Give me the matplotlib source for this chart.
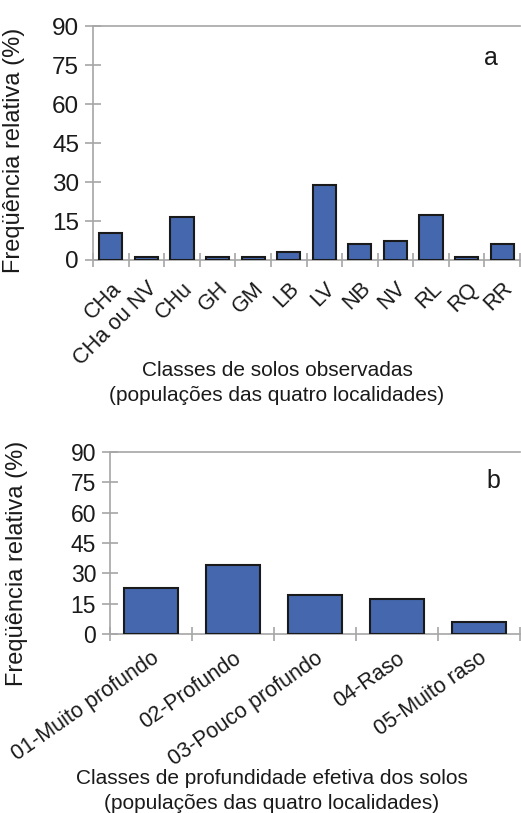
import numpy as np
import matplotlib.pyplot as plt
from matplotlib.ticker import FixedLocator

plt.rcParams['font.family'] = ['Liberation Sans', 'DejaVu Sans']

# panel a - classes de solos
solos = ['CHa', 'CHa ou NV', 'CHu', 'GH', 'GM', 'LB', 'LV', 'NB', 'NV', 'RL', 'RQ', 'RR']
freq_solos = [10.3, 1.0, 16.4, 1.0, 1.0, 3.1, 28.8, 6.2, 7.3, 17.3, 1.0, 6.0]

# panel b - profundidade efetiva
prof = ['01-Muito profundo', '02-Profundo', '03-Pouco profundo', '04-Raso', '05-Muito raso']
freq_prof = [22.6, 34.1, 19.3, 17.3, 6.1]

yticks = [0, 15, 30, 45, 60, 75, 90]
bar_color = '#4567AE'
axis_gray = '#A6A6A6'

fig = plt.figure(figsize=(5.21, 8.13), dpi=100)


def style_axes(ax, n, tick_size, xpad):
    ax.set_xlim(-0.5, n - 0.5)
    ax.set_ylim(0, 90)
    ax.set_yticks(yticks)
    ax.spines['right'].set_visible(False)
    for s in ['left', 'bottom', 'top']:
        ax.spines[s].set_color(axis_gray)
        ax.spines[s].set_linewidth(1.2)
    ax.tick_params(axis='y', direction='inout', length=12, width=1.2,
                   color=axis_gray, labelsize=tick_size, pad=4, labelcolor='#1a1a1a')
    ax.xaxis.set_minor_locator(FixedLocator(np.arange(n + 1) - 0.5))
    ax.tick_params(axis='x', which='minor', direction='inout', length=10,
                   width=1.2, color=axis_gray)
    ax.tick_params(axis='x', which='major', length=0, pad=xpad)


# ---- panel a
ax1 = fig.add_axes([0.1785, 0.6802, 0.8196, 0.2878])
x1 = np.arange(len(solos))
ax1.bar(x1, freq_solos, width=0.65, color=bar_color, edgecolor='#1a1a1a',
        linewidth=1.5, zorder=3)
style_axes(ax1, len(solos), 17.5, 13)
ax1.set_xticks(x1)
ax1.set_xticklabels(solos, rotation=45, ha='right', rotation_mode='anchor',
                    fontsize=15.5, color='#1a1a1a')
ax1.set_ylabel('Freqüência relativa (%)', fontsize=17, color='#1a1a1a')
ax1.yaxis.set_label_coords(-0.16, 0.47)
fig.text(491 / 521, 1 - 58 / 813, 'a', fontsize=18, ha='center', va='center',
         color='#1a1a1a')
fig.text(277 / 521, 1 - 383 / 813,
         'Classes de solos observadas\n(populações das quatro localidades)',
         fontsize=15, ha='center', va='center', linespacing=1.35, color='#1a1a1a')

# ---- panel b
ax2 = fig.add_axes([0.2111, 0.2202, 0.7870, 0.2239])
x2 = np.arange(len(prof))
ax2.bar(x2, freq_prof, width=0.65, color=bar_color, edgecolor='#1a1a1a',
        linewidth=1.5, zorder=3)
style_axes(ax2, len(prof), 16.5, 10)
ax2.set_xticks(x2)
ax2.set_xticklabels(prof, rotation=35, ha='right', rotation_mode='anchor',
                    fontsize=15.5, color='#1a1a1a')
ax2.set_ylabel('Freqüência relativa (%)', fontsize=17, color='#1a1a1a')
ax2.yaxis.set_label_coords(-0.2, 0.39)
fig.text(493 / 521, 1 - 481 / 813, 'b', fontsize=18, ha='center', va='center',
         color='#1a1a1a')
fig.text(272 / 521, 1 - 791 / 813,
         'Classes de profundidade efetiva dos solos\n(populações das quatro localidades)',
         fontsize=15, ha='center', va='center', linespacing=1.35, color='#1a1a1a')

fig.savefig('out.png', dpi=100)
